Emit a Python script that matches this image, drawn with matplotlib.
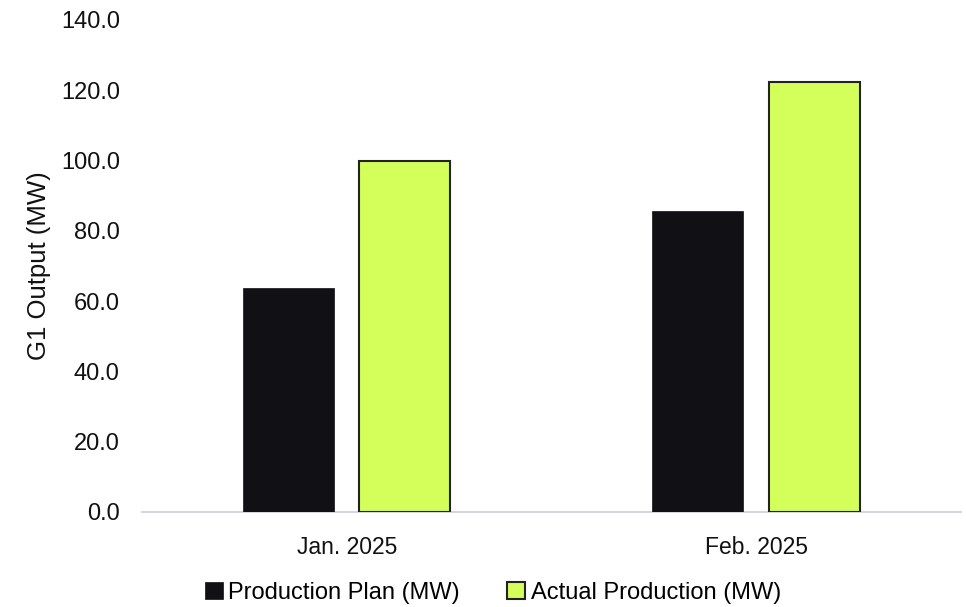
import numpy as np
import matplotlib
matplotlib.use('Agg')
import matplotlib.pyplot as plt

plt.rcParams['font.family'] = ['Liberation Sans', 'DejaVu Sans']

months = ['Jan. 2025', 'Feb. 2025']
plan = [63.7, 85.7]
actual = [99.9, 122.4]
yticks = [0, 20, 40, 60, 80, 100, 120, 140]

fig = plt.figure(figsize=(9.66, 6.07), dpi=100)
ax = fig.add_axes([142/966, 1 - 512/607, 819/966, 492/607])

x = np.arange(len(months))
w = 0.222
ax.bar(x - 0.143, plan, w, color='#111014', edgecolor='#111014', linewidth=0.5,
       label='Production Plan (MW)', zorder=3)
ax.bar(x + 0.142, actual, w, color='#D4FF5A', edgecolor='#222222', linewidth=1.5,
       label='Actual Production (MW)', zorder=3)

ax.set_xlim(-0.5, 1.5)
ax.set_ylim(0, 140)
ax.set_yticks(yticks)
ax.set_yticklabels(['%.1f' % t for t in yticks], fontsize=17, color='#111111')
ax.set_xticks(x)
ax.set_xticklabels(months, fontsize=16.5, color='#111111')
ax.tick_params(length=0, axis='y', pad=16)
ax.tick_params(length=0, axis='x', pad=17)

for s in ['top', 'right', 'left']:
    ax.spines[s].set_visible(False)
ax.spines['bottom'].set_color('#D9D4E0')
ax.spines['bottom'].set_linewidth(1.5)

ax.set_ylabel('G1 Output (MW)', fontsize=18.5, color='#111111', labelpad=7)

# legend sits right at the bottom edge, keep the descenders inside the canvas
fig.legend(loc='center', bbox_to_anchor=(493/966, 1 - 593/607), ncol=2, frameon=False,
           fontsize=17, handlelength=0.75, handleheight=0.75, handletextpad=0.25,
           columnspacing=2.0, borderpad=0.2)

fig.savefig('out.png', dpi=100)
